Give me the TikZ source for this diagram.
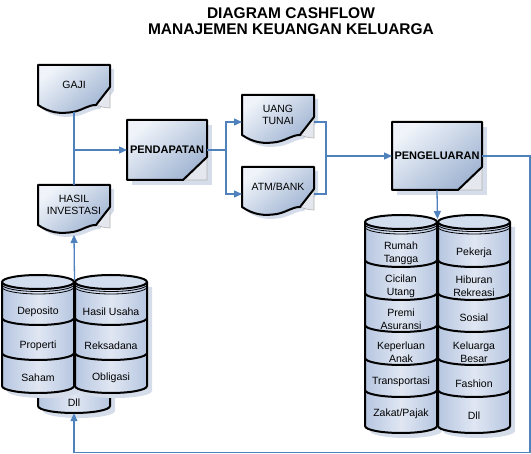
\documentclass[tikz,border=0pt]{standalone}
\usepackage{fontspec}
\setmainfont{Liberation Sans}
\usetikzlibrary{arrows.meta}

\definecolor{flowblue}{RGB}{79,129,189}
\definecolor{shapelight}{RGB}{240,244,250}
\definecolor{shapedark}{RGB}{160,180,210}
\definecolor{cyllight}{RGB}{224,231,243}
\definecolor{cyldark}{RGB}{182,198,224}
\definecolor{lidfill}{RGB}{210,221,238}
\definecolor{shadowgrey}{RGB}{214,221,234}
\definecolor{curlgrey}{RGB}{228,231,237}

\tikzset{
    outline/.style={draw=black, line width=2pt, line join=round},
    shapefill/.style={top color=shapelight, bottom color=shapedark, shading angle=40},
    cylfill/.style={left color=cyldark, right color=cyldark, middle color=cyllight},
    curl/.style={fill=curlgrey, draw=gray!60, line width=0.6pt},
    flow/.style={draw=flowblue, line width=1.3pt},
    flowarrow/.style={flow, -{Triangle[length=8pt,width=7pt]}},
    titletext/.style={font=\fontsize{15.5}{16}\selectfont\bfseries, inner sep=0pt},
    doclabel/.style={align=center, font=\fontsize{10.5}{12.5}\selectfont,
        minimum width=72pt, minimum height=40pt, inner sep=0pt, outer sep=0pt},
    boxlabel/.style={font=\fontsize{11}{13}\selectfont\bfseries, inner sep=0pt, outer sep=0pt},
    cyllabel/.style={align=center, font=\fontsize{10.5}{13}\selectfont, inner sep=0pt}
}

% document sheet with a wavy foot
\newcommand{\docpath}{(0,0) -- (72,0) -- (72,22) -- (58,40)
    .. controls (50,40) and (45,45) .. (35,47)
    .. controls (22,49) and (12,48) .. (0,40) -- cycle}
\newcommand{\docshape}[4]{%
    \begin{scope}[shift={(#2,#3)}]
        \fill[shadowgrey, shift={(4,4)}] \docpath;
        \filldraw[curl] (72,22) -- (72,43) .. controls (66,43) and (61,41) .. (58,40) -- cycle;
        \draw[outline, shapefill] \docpath;
        \node[doclabel] (#1) at (36,20) {#4};
    \end{scope}}

% process box with a cut corner
\newcommand{\procbox}[6]{%
    \begin{scope}[shift={(#2,#3)}]
        \fill[shadowgrey] (5,5) rectangle (#4+5,#5+5);
        \filldraw[curl] (#4,#5-23) -- (#4,#5) -- (#4-24,#5) -- cycle;
        \draw[outline, shapefill] (0,0) -- (#4,0) -- (#4,#5-23) -- (#4-24,#5) -- (0,#5) -- cycle;
        \node[boxlabel, minimum width=#4pt, minimum height=#5pt] (#1) at (#4/2,#5/2) {#6};
    \end{scope}}

% one stacked cylinder: centre x, lid y, base y, section lines
\newcommand{\frontarc}{arc[start angle=180, end angle=360, x radius=36pt, y radius=7pt]}
\newcommand{\cylcol}[4]{%
    \fill[shadowgrey] (#1-31,#2+5) -- (#1-31,#3-2) \frontarc -- (#1+41,#2+5) -- cycle;
    \fill[cylfill] (#1-36,#2) -- (#1-36,#3-7) \frontarc -- (#1+36,#2) -- cycle;
    \foreach \yb in {#4} \draw[outline] (#1-36,\yb-7) \frontarc;
    \draw[line width=0.8pt] (#1-36,#2+2.5) \frontarc;
    \draw[line width=0.8pt] (#1-36,#2+5) \frontarc;
    \draw[outline] (#1-36,#2) -- (#1-36,#3-7) \frontarc -- (#1+36,#2);
    \draw[outline, fill=lidfill] (#1,#2) ellipse[x radius=36pt, y radius=7pt];}

\begin{document}
\begin{tikzpicture}[x=1pt, y=-1pt]
    \useasboundingbox (0,0) rectangle (531,454);

    % title
    \node[titletext] (title1) at (291,13.5) {DIAGRAM CASHFLOW};
    \node[titletext] (title2) at (291,29.5) {MANAJEMEN KEUANGAN KELUARGA};

    % investments
    \fill[shadowgrey] (43,380) -- (43,411) \frontarc -- (115,380) -- cycle;
    \draw[outline, cylfill] (38,375) -- (38,406) \frontarc -- (110,375);
    \cylcol{38}{282}{393}{325,360}
    \cylcol{111}{282}{393}{325,360}
    \node[cyllabel, minimum width=72pt, minimum height=20pt] (dllinv) at (74,403) {Dll};
    \node[cyllabel] (deposito) at (38,312) {Deposito};
    \node[cyllabel] (properti) at (38,346) {Properti};
    \node[cyllabel] (saham) at (38,378) {Saham};
    \node[cyllabel] (usaha) at (111,312) {Hasil Usaha};
    \node[cyllabel] (reksadana) at (111,346) {Reksadana};
    \node[cyllabel] (obligasi) at (111,378) {Obligasi};
    \coordinate (invtop) at (74.5,280);

    % spendings
    \cylcol{401}{222}{433}{267,300,332,365,397}
    \cylcol{474}{222}{433}{267,300,332,365,397}
    \node[cyllabel] (rumah) at (401,253) {Rumah\\Tangga};
    \node[cyllabel] (cicilan) at (401,286) {Cicilan\\Utang};
    \node[cyllabel] (premi) at (401,319) {Premi\\Asuransi};
    \node[cyllabel] (anak) at (401,352) {Keperluan\\Anak};
    \node[cyllabel] (transport) at (401,382) {Transportasi};
    \node[cyllabel] (zakat) at (401,414) {Zakat/Pajak};
    \node[cyllabel] (pekerja) at (474,253) {Pekerja};
    \node[cyllabel] (hiburan) at (474,286) {Hiburan\\Rekreasi};
    \node[cyllabel] (sosial) at (474,318) {Sosial};
    \node[cyllabel] (keluarga) at (474,352) {Keluarga\\Besar};
    \node[cyllabel] (fashion) at (474,384) {Fashion};
    \node[cyllabel] (dllspend) at (474,416) {Dll};
    \coordinate (spendtop) at (437.5,219);

    % sources and accounts
    \docshape{gaji}{38}{65}{GAJI}
    \docshape{hasil}{38}{185}{HASIL\\INVESTASI}
    \docshape{uang}{242}{95}{UANG\\TUNAI}
    \docshape{atm}{242}{167}{ATM/BANK}
    \procbox{pendapatan}{127}{120}{80}{60}{PENDAPATAN}
    \procbox{pengeluaran}{392}{122}{90}{68}{PENGELUARAN}

    % flows
    \draw[flow] ([yshift=-7pt]gaji.south) -- (hasil.north);
    \draw[flowarrow] (gaji.south |- pendapatan.west) -- (pendapatan.west);
    \draw[flowarrow] (pendapatan.east) -- ++(19,0) |- ([yshift=-7pt]uang.west);
    \draw[flowarrow] (pendapatan.east) -- ++(19,0) |- ([yshift=-7pt]atm.west);
    \draw[flow] ([yshift=-7pt]uang.east) -- ++(12,0) coordinate (join) |- ([yshift=-7pt]atm.east);
    \draw[flowarrow] (join |- pengeluaran.west) -- (pengeluaran.west);
    \draw[flowarrow] (pengeluaran.south) -- (spendtop);
    \draw[flowarrow] (pengeluaran.east) -- ++(48,0) |- ([yshift=-39pt]dllinv.south) -- (dllinv.south);
    \draw[flowarrow] (invtop) -- ([yshift=-10pt]hasil.south);
\end{tikzpicture}
\end{document}
